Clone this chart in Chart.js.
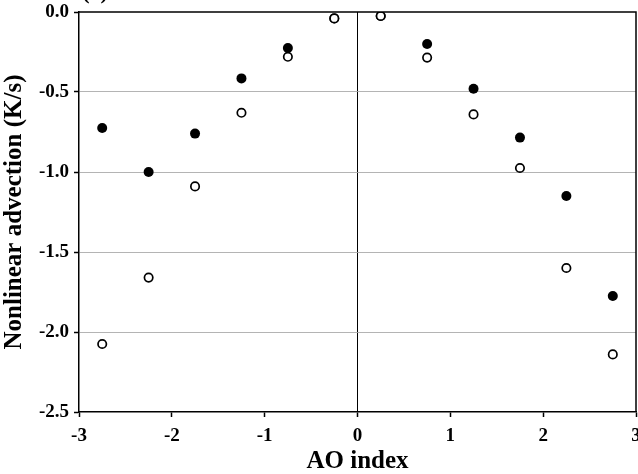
<!DOCTYPE html>
<html>
<head>
<meta charset="utf-8">
<script src="https://cdn.jsdelivr.net/npm/chart.js@4.4.1/dist/chart.umd.min.js"></script>
<style>
  html, body { margin: 0; padding: 0; background: #fff; }
  #wrap { width: 638px; height: 474px; position: relative; }
</style>
</head>
<body>
<div id="wrap"><canvas id="c" width="638" height="474"></canvas></div>
<script>
// AO index bins (centres)
const aoIndex = [-2.75, -2.25, -1.75, -1.25, -0.75, -0.25, 0.25, 0.75, 1.25, 1.75, 2.25, 2.75];
// filled circles
const filledValues = [-0.725, -1.00, -0.76, -0.415, -0.225, -0.04, -0.025, -0.20, -0.48, -0.785, -1.15, -1.775];
// open circles
const openValues = [-2.075, -1.66, -1.09, -0.63, -0.28, -0.04, -0.025, -0.285, -0.64, -0.975, -1.60, -2.14];
const xTicks = [-3, -2, -1, 0, 1, 2, 3];
const yTicks = [0.0, -0.5, -1.0, -1.5, -2.0, -2.5];
const xTitle = 'AO index';
const yTitle = 'Nonlinear advection (K/s)';
const panelLabel = '(a)';

const FONT = "'Liberation Serif', 'Times New Roman', serif";

const toPts = (vals) => aoIndex.map((x, i) => ({ x: x, y: vals[i] }));

const framePlugin = {
  id: 'frame',
  afterDraw(chart) {
    const { ctx, chartArea: a } = chart;
    ctx.save();
    ctx.strokeStyle = '#000';
    ctx.lineWidth = 1.5;
    ctx.beginPath();
    ctx.moveTo(a.left, a.top);
    ctx.lineTo(a.right, a.top);
    ctx.lineTo(a.right, a.bottom);
    ctx.stroke();
    ctx.fillStyle = '#000';
    ctx.font = "bold 22px " + FONT;
    ctx.textAlign = 'center';
    ctx.textBaseline = 'alphabetic';
    ctx.fillText(panelLabel, a.left + 16, -1);
    ctx.restore();
  }
};

new Chart(document.getElementById('c'), {
  type: 'scatter',
  data: {
    datasets: [
      {
        label: 'open',
        data: toPts(openValues),
        pointStyle: 'circle',
        pointRadius: 4.2,
        pointHoverRadius: 4.2,
        pointBackgroundColor: '#fff',
        pointBorderColor: '#000',
        pointBorderWidth: 1.7
      },
      {
        label: 'filled',
        data: toPts(filledValues),
        pointStyle: 'circle',
        pointRadius: 5,
        pointHoverRadius: 5,
        pointBackgroundColor: '#000',
        pointBorderColor: '#000',
        pointBorderWidth: 0
      }
    ]
  },
  plugins: [framePlugin],
  options: {
    responsive: false,
    animation: false,
    events: [],
    layout: { autoPadding: false, padding: { top: 12, right: 2, left: 0, bottom: 0 } },
    plugins: { legend: { display: false }, tooltip: { enabled: false } },
    scales: {
      x: {
        type: 'linear',
        min: -3, max: 3,
        afterBuildTicks(scale) { scale.ticks = xTicks.map(v => ({ value: v })); },
        afterFit(scale) { scale.height = 62; scale.paddingRight = 0; scale.paddingLeft = 0; },
        border: { display: true, color: '#000', width: 1.5 },
        grid: {
          drawOnChartArea: true,
          color: (c) => (c.tick && c.tick.value === 0) ? '#000' : 'rgba(0,0,0,0)',
          lineWidth: 1,
          drawTicks: true,
          tickLength: 5,
          tickColor: '#000',
          tickWidth: 1.5
        },
        ticks: {
          color: '#000',
          font: { family: FONT, size: 19, weight: 'bold' },
          padding: 8,
          maxRotation: 0,
          autoSkip: false,
          callback: (v) => String(v)
        },
        title: {
          display: true,
          text: xTitle,
          color: '#000',
          font: { family: FONT, size: 25, weight: 'bold' },
          padding: { top: 2, bottom: -3 }
        }
      },
      y: {
        type: 'linear',
        min: -2.5, max: 0,
        afterBuildTicks(scale) { scale.ticks = yTicks.map(v => ({ value: v })); },
        afterFit(scale) { scale.width = 79; scale.paddingTop = 0; scale.paddingBottom = 0; },
        border: { display: true, color: '#000', width: 1.5 },
        grid: {
          color: (c) => (c.tick && (c.tick.value === 0 || c.tick.value === -2.5)) ? 'rgba(0,0,0,0)' : '#b4b4b4',
          lineWidth: 1,
          drawTicks: true,
          tickLength: 5,
          tickColor: '#000',
          tickWidth: 1.5
        },
        ticks: {
          color: '#000',
          font: { family: FONT, size: 19, weight: 'bold' },
          padding: 5,
          autoSkip: false,
          callback: (v) => Number(v).toFixed(1)
        },
        title: {
          display: true,
          text: yTitle,
          color: '#000',
          font: { family: FONT, size: 25, weight: 'bold' },
          padding: { top: 0, bottom: 0 }
        }
      }
    }
  }
});
</script>
</body>
</html>
